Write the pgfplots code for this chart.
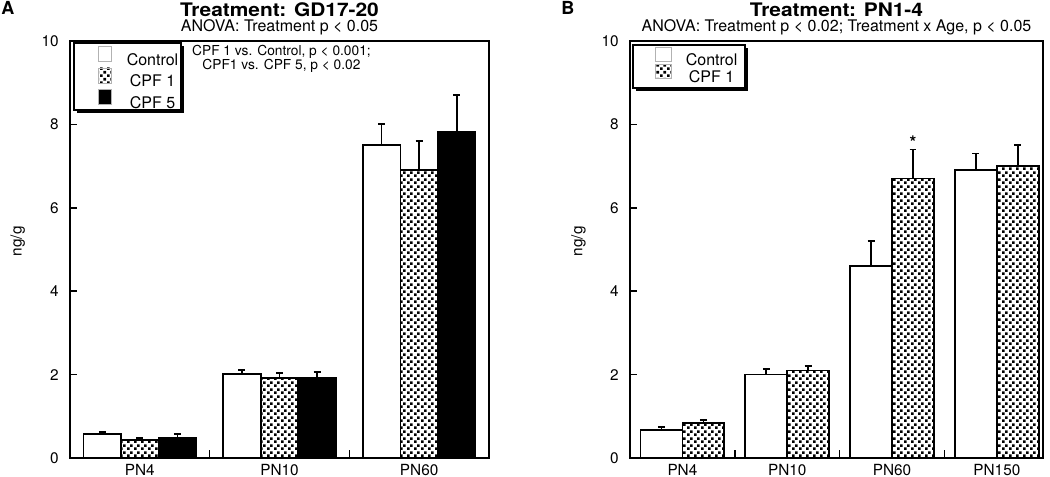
\documentclass[border=0pt]{standalone}
\usepackage{fontspec}
\setmainfont{TeX Gyre Heros}
\newfontfamily\titlefont{TeX Gyre Heros}[FakeStretch=1.12]
\usepackage{pgfplots}
\pgfplotsset{compat=1.18}
\usetikzlibrary{patterns}
\pgfdeclarepatternformonly{sqdots}{\pgfqpoint{0pt}{0pt}}{\pgfqpoint{5pt}{5pt}}{\pgfqpoint{5pt}{5pt}}{%
  \pgfpathrectangle{\pgfqpoint{0pt}{0pt}}{\pgfqpoint{2pt}{2pt}}%
  \pgfpathrectangle{\pgfqpoint{2.5pt}{2.5pt}}{\pgfqpoint{2pt}{2pt}}%
  \pgfusepath{fill}}
\pgfplotsset{
  common/.style={
    scale only axis, height=312.75pt,
    ymin=0, ymax=10, ytick={0,2,4,6,8,10},
    axis line style={line width=1.3pt},
    tick align=inside, ytick pos=left, xtick pos=lower,
    major tick length=5pt,
    tick style={line width=1.2pt, black},
    major x tick style={draw=none},
    tick label style={font=\fontsize{11.5}{13}\selectfont},
    yticklabel style={xshift=-5pt},
    xticklabel style={yshift=4pt},
    /pgf/number format/assume math mode=true,
    ylabel={ng/g},
    ylabel style={font=\fontsize{11.5}{13}\selectfont, at={(axis description cs:-0.125,0.52)}, anchor=center},
    clip=false, ybar,
  },
  errs/.style={error bars/.cd, y dir=plus, y explicit, error mark=|,
    error bar style={line width=1.2pt, black},
    error mark options={line width=1.2pt, black, mark size=2.6pt}},
  legA/.style={legend image code/.code={\path (-16pt,0pt); \path[##1,draw=gray!60,line width=0.5pt] (0pt,-0.75pt) rectangle (10pt,10.5pt);}},
  legB/.style={legend image code/.code={\path (-11pt,0pt); \path[##1,draw=gray!60,line width=0.5pt] (0pt,-0.4pt) rectangle (12pt,10pt);}},
  ctrl/.style={fill=white, draw=black, line width=1.3pt},
  cpf1/.style={pattern=sqdots, pattern color=black, draw=black, line width=1.3pt},
  cpf5/.style={fill=black, draw=black, line width=1.3pt},
}
\begin{document}
\begin{tikzpicture}
% Panel A
\begin{axis}[common, width=314.25pt,
  xmin=-0.5, xmax=2.5, xtick={0,1,2}, xticklabels={PN4,PN10,PN60},
  bar width=0.269,
  legend style={at={(0.0095,0.995)}, anchor=north west, draw=none, fill=none,
    font=\fontsize{12}{14}\selectfont,
    row sep=-2pt, column sep=9pt, inner xsep=1.5pt, inner ysep=2.25pt},
]
\fill[black] ([shift={(2.3pt,-2.3pt)}]rel axis cs:0.0095,0.8345) rectangle ([shift={(2.3pt,-2.3pt)}]rel axis cs:0.265,0.995);
\draw[fill=white, line width=1pt] (rel axis cs:0.0095,0.8345) rectangle (rel axis cs:0.265,0.995);
\draw[line width=1.2pt] (axis cs:0.5,0) -- ++(0pt,6pt) (axis cs:1.5,0) -- ++(0pt,6pt);
\addplot[ctrl, bar shift=-0.269, legA, errs] coordinates {(0,0.57) +- (0,0.05) (1,2.01) +- (0,0.10) (2,7.51) +- (0,0.50)};
\addlegendentry{Control}
\addplot[cpf1, bar shift=0, legA, errs] coordinates {(0,0.43) +- (0,0.05) (1,1.92) +- (0,0.12) (2,6.91) +- (0,0.69)};
\addlegendentry{CPF 1}
\addplot[cpf5, bar shift=0.269, legA, errs] coordinates {(0,0.48) +- (0,0.09) (1,1.92) +- (0,0.14) (2,7.82) +- (0,0.88)};
\addlegendentry{CPF 5}
\node[anchor=base, font=\fontsize{14}{16}\titlefont\bfseries] at (rel axis cs:0.5,1.058) {Treatment: GD17-20};
\node[anchor=base, font=\fontsize{12}{14}\selectfont] at (rel axis cs:0.5,1.0216) {ANOVA: Treatment p < 0.05};
\node[anchor=base, font=\fontsize{10.3}{12}\selectfont] at (axis cs:1.014,9.664) {CPF 1 vs. Control, p < 0.001;};
\node[anchor=base, font=\fontsize{10.3}{12}\selectfont] at (axis cs:1.014,9.305) {CPF1 vs. CPF 5, p < 0.02};
\end{axis}
% Panel B
\begin{axis}[common, width=309.75pt, at={(420pt,0pt)}, anchor=south west,
  xmin=-0.5, xmax=3.44, xtick={0,1,2,3}, xticklabels={PN4,PN10,PN60,PN150},
  bar width=0.4,
  legend style={at={(0.0073,0.99)}, anchor=north west, draw=none, fill=none,
    font=\fontsize{12}{14}\selectfont,
    row sep=-4.6pt, column sep=8.5pt, inner xsep=5pt, inner ysep=1pt},
]
\fill[black] ([shift={(2.3pt,-2.3pt)}]rel axis cs:0.0073,0.887) rectangle ([shift={(2.3pt,-2.3pt)}]rel axis cs:0.2785,0.99);
\draw[fill=white, line width=1pt] (rel axis cs:0.0073,0.887) rectangle (rel axis cs:0.2785,0.99);
\draw[line width=1.2pt] (axis cs:0.5,0) -- ++(0pt,6pt) (axis cs:1.5,0) -- ++(0pt,6pt) (axis cs:2.5,0) -- ++(0pt,6pt);
\addplot[ctrl, bar shift=-0.2, legB, errs] coordinates {(0,0.67) +- (0,0.07) (1,2.00) +- (0,0.13) (2,4.60) +- (0,0.60) (3,6.90) +- (0,0.40)};
\addlegendentry{Control}
\addplot[cpf1, bar shift=0.2, legB, errs] coordinates {(0,0.84) +- (0,0.07) (1,2.10) +- (0,0.10) (2,6.70) +- (0,0.70) (3,7.00) +- (0,0.50)};
\addlegendentry{CPF 1}
\node[anchor=base, font=\fontsize{14}{16}\titlefont\bfseries] at (rel axis cs:0.5,1.058) {Treatment: PN1-4};
\node[anchor=base, font=\fontsize{12}{14}\selectfont] at (rel axis cs:0.5,1.0216) {ANOVA: Treatment p < 0.02; Treatment x Age, p < 0.05};
\node[anchor=south, font=\fontsize{13}{15}\selectfont\bfseries, inner sep=0pt] at (axis cs:2.2,7.42) {*};
\end{axis}
\node[anchor=base west, inner sep=0pt, font=\fontsize{13.5}{15}\selectfont\bfseries] at (-51.75pt,332.25pt) {A};
\node[anchor=base west, inner sep=0pt, font=\fontsize{13.5}{15}\selectfont\bfseries] at (368.25pt,332.25pt) {B};
\pgfresetboundingbox
\path[use as bounding box] (-52.5pt,-14.25pt) rectangle (735pt,343.5pt);
\end{tikzpicture}
\end{document}
